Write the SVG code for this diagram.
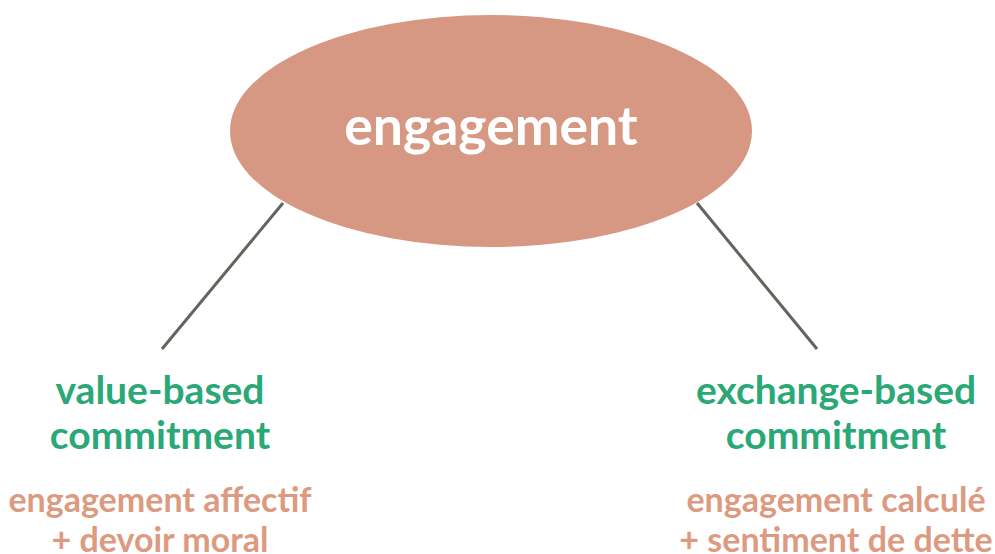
<svg xmlns="http://www.w3.org/2000/svg" width="995" height="554" viewBox="0 0 995 554">
<style>
.t{font-family:Lato,"Open Sans","Liberation Sans",sans-serif;font-weight:bold;text-anchor:middle}
.main{fill:#ffffff;font-size:53.5px}
.g{fill:#2aa876;font-size:39px}
.o{fill:#dc9a80;font-size:34px}
.c{stroke:#62655b;stroke-width:3;fill:none}
</style>
<rect width="995" height="554" fill="#ffffff"/>
<g id="connectors">
<line class="c" x1="283" y1="203" x2="162" y2="349"/>
<line class="c" x1="697" y1="203" x2="817" y2="349"/>
</g>
<g id="node-engagement">
<ellipse cx="491" cy="131" rx="261" ry="116" fill="#d69882"/>
<text class="t main" x="491" y="145">engagement</text>
</g>
<g id="node-value">
<text class="t g" x="160" y="404">value-based</text>
<text class="t g" x="160" y="449">commitment</text>
<text class="t o" x="160" y="512">engagement affectif</text>
<text class="t o" x="160" y="552">+ devoir moral</text>
</g>
<g id="node-exchange">
<text class="t g" x="836" y="404">exchange-based</text>
<text class="t g" x="836" y="449">commitment</text>
<text class="t o" x="836" y="512">engagement calculé</text>
<text class="t o" x="836" y="552">+ sentiment de dette</text>
</g>
</svg>
